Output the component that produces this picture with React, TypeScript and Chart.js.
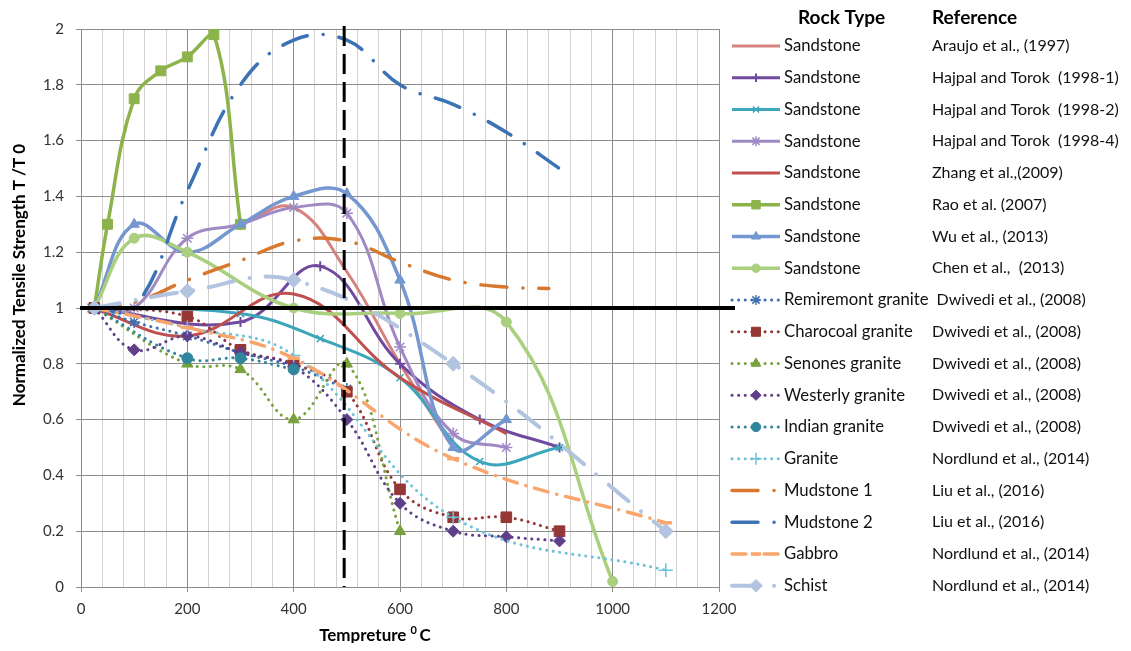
import React, { useEffect, useRef } from 'react';
import { Chart, registerables } from 'chart.js';
import { drawPoint } from 'chart.js/helpers';

Chart.register(...registerables);

// ---------- labels ----------
const ROCK_TYPES = [
  'Sandstone', 'Sandstone', 'Sandstone', 'Sandstone', 'Sandstone', 'Sandstone', 'Sandstone', 'Sandstone',
  'Remiremont granite', 'Charocoal granite', 'Senones granite', 'Westerly granite', 'Indian granite',
  'Granite', 'Mudstone 1', 'Mudstone 2', 'Gabbro', 'Schist',
];
const REFERENCES = [
  'Araujo et al., (1997)', 'Hajpal and Torok  (1998-1)', 'Hajpal and Torok  (1998-2)', 'Hajpal and Torok  (1998-4)',
  'Zhang et al.,(2009)', 'Rao et al. (2007)', 'Wu et al., (2013)', 'Chen et al.,  (2013)',
  'Dwivedi et al., (2008)', 'Dwivedi et al., (2008)', 'Dwivedi et al., (2008)', 'Dwivedi et al., (2008)',
  'Dwivedi et al., (2008)', 'Nordlund et al., (2014)', 'Liu et al., (2016)', 'Liu et al., (2016)',
  'Nordlund et al., (2014)', 'Nordlund et al., (2014)',
];
const X_TITLE = 'Tempreture';
const X_TITLE_SUP = '0';
const X_TITLE_UNIT = 'C';
const Y_TITLE = 'Normalized Tensile Strength T /T 0';
const HEAD_ROCK = 'Rock Type';
const HEAD_REF = 'Reference';

// ---------- axes ----------
const X_MIN = 0, X_MAX = 1200, X_MINOR = 40, X_MAJOR = 200;
const Y_MIN = 0, Y_MAX = 2, Y_STEP = 0.2;
const REF_LINE_Y = 1;
const REF_LINE_X = 495;

// ---------- series (temperature °C, normalized strength) ----------
const T_ARAUJO = [300, 400, 500, 600, 700];
const V_ARAUJO = [1.3, 1.36, 1.13, 0.8, 0.5];

const T_HT1 = [20, 300, 450, 600, 750, 900];
const V_HT1 = [1.0, 0.95, 1.15, 0.8, 0.6, 0.5];

const T_HT2 = [20, 300, 450, 600, 750, 900];
const V_HT2 = [1.0, 0.98, 0.89, 0.75, 0.45, 0.5];

const T_HT4 = [20, 100, 200, 300, 400, 500, 600, 700, 800];
const V_HT4 = [1.0, 1.0, 1.25, 1.3, 1.36, 1.34, 0.86, 0.55, 0.5];

const T_ZHANG = [20, 200, 400, 600, 800];
const V_ZHANG = [1.0, 0.9, 1.05, 0.75, 0.55];

const T_RAO = [25, 50, 100, 150, 200, 250, 300];
const V_RAO = [1.0, 1.3, 1.75, 1.85, 1.9, 1.98, 1.3];

const T_WU = [25, 100, 200, 300, 400, 500, 600, 700, 800];
const V_WU = [1.0, 1.3, 1.2, 1.3, 1.4, 1.41, 1.1, 0.5, 0.6];

const T_CHEN = [25, 100, 200, 400, 600, 800, 1000];
const V_CHEN = [1.0, 1.25, 1.2, 1.0, 0.98, 0.95, 0.02];

const T_REMIREMONT = [25, 100, 200, 300, 400, 500];
const V_REMIREMONT = [1.0, 0.95, 0.9, 0.84, 0.79, 0.71];

const T_CHARCOAL = [25, 200, 300, 400, 500, 600, 700, 800, 900];
const V_CHARCOAL = [1.0, 0.97, 0.85, 0.8, 0.7, 0.35, 0.25, 0.25, 0.2];

const T_SENONES = [25, 200, 300, 400, 500, 600];
const V_SENONES = [1.0, 0.8, 0.78, 0.6, 0.8, 0.2];

const T_WESTERLY = [25, 100, 200, 300, 400, 500, 600, 700, 800, 900];
const V_WESTERLY = [1.0, 0.85, 0.9, 0.84, 0.79, 0.6, 0.3, 0.2, 0.18, 0.165];

const T_INDIAN = [25, 200, 300, 400];
const V_INDIAN = [1.0, 0.82, 0.82, 0.78];

const T_GRANITE = [25, 200, 400, 700, 1100];
const V_GRANITE = [1.0, 0.93, 0.83, 0.25, 0.06];

const T_MUD1 = [25, 100, 200, 300, 400, 500, 600, 700, 800, 880];
const V_MUD1 = [1.0, 1.02, 1.1, 1.17, 1.24, 1.24, 1.165, 1.1, 1.075, 1.07];

const T_MUD2 = [25, 100, 200, 300, 400, 500, 600, 700, 800, 900];
const V_MUD2 = [1.0, 1.0, 1.42, 1.8, 1.96, 1.96, 1.8, 1.73, 1.63, 1.5];

const T_GABBRO = [25, 200, 400, 700, 1100];
const V_GABBRO = [1.0, 0.93, 0.82, 0.46, 0.23];

const T_SCHIST = [25, 200, 400, 700, 1100];
const V_SCHIST = [1.0, 1.06, 1.1, 0.8, 0.2];

const FONT = 'Lato, "Open Sans", "DejaVu Sans", sans-serif';

type S = {
  t: number[]; v: number[]; color: string; width: number; dash?: number[]; cap?: CanvasLineCap;
  point?: string; r?: number; pbw?: number;
};

const DOT = [0.1, 6.5];
const DASHDOT = [26, 16, 0.1, 16];
const SHORTDASHDOT = [14, 9, 0.1, 9];

const SERIES: S[] = [
  { t: T_ARAUJO, v: V_ARAUJO, color: '#D6827E', width: 3 },
  { t: T_HT1, v: V_HT1, color: '#6F4A9E', width: 3, point: 'cross', r: 5, pbw: 2 },
  { t: T_HT2, v: V_HT2, color: '#3CA7BC', width: 3, point: 'crossRot', r: 5, pbw: 1.5 },
  { t: T_HT4, v: V_HT4, color: '#A08AC4', width: 3, point: 'star', r: 6, pbw: 1.5 },
  { t: T_ZHANG, v: V_ZHANG, color: '#C0504D', width: 3 },
  { t: T_RAO, v: V_RAO, color: '#8DB44A', width: 3.5, point: 'rect', r: 7, pbw: 1 },
  { t: T_WU, v: V_WU, color: '#7497D0', width: 3.5, point: 'triangle', r: 6, pbw: 1 },
  { t: T_CHEN, v: V_CHEN, color: '#A9CF7F', width: 3.5, point: 'circle', r: 5, pbw: 1 },
  { t: T_REMIREMONT, v: V_REMIREMONT, color: '#3F6FAF', width: 3, dash: DOT, cap: 'round', point: 'star', r: 6, pbw: 1.5 },
  { t: T_CHARCOAL, v: V_CHARCOAL, color: '#953735', width: 3, dash: DOT, cap: 'round', point: 'rect', r: 7.5, pbw: 1 },
  { t: T_SENONES, v: V_SENONES, color: '#77A23C', width: 3, dash: DOT, cap: 'round', point: 'triangle', r: 6.5, pbw: 1 },
  { t: T_WESTERLY, v: V_WESTERLY, color: '#5F3F8A', width: 3, dash: DOT, cap: 'round', point: 'rectRot', r: 6, pbw: 1 },
  { t: T_INDIAN, v: V_INDIAN, color: '#31859C', width: 3, dash: DOT, cap: 'round', point: 'circle', r: 5.5, pbw: 1 },
  { t: T_GRANITE, v: V_GRANITE, color: '#6FC2D8', width: 3, dash: DOT, cap: 'round', point: 'cross', r: 7, pbw: 1.5 },
  { t: T_MUD1, v: V_MUD1, color: '#D8772E', width: 3.5, dash: DASHDOT, cap: 'round' },
  { t: T_MUD2, v: V_MUD2, color: '#3C73B4', width: 3.5, dash: DASHDOT, cap: 'round' },
  { t: T_GABBRO, v: V_GABBRO, color: '#F9A66E', width: 3.5, dash: SHORTDASHDOT, cap: 'round', point: 'line', r: 6, pbw: 3.5 },
  { t: T_SCHIST, v: V_SCHIST, color: '#B3C4E0', width: 4, dash: DASHDOT, cap: 'round', point: 'rectRot', r: 7.5, pbw: 1 },
];

// legend layout (canvas coords)
const LEG_LINE_X0 = 724, LEG_LINE_X1 = 772, LEG_TEXT_X = 776, LEG_REF_X = 924;
const LEG_HEAD_Y = 10, LEG_FIRST_Y = 38, LEG_ROW_H = 31.75;

const decorPlugin = {
  id: 'decor',
  afterDatasetsDraw(chart: any) {
    const { ctx, chartArea, scales } = chart;
    const x = scales.x, y = scales.y;
    ctx.save();
    ctx.strokeStyle = '#000';
    ctx.lineWidth = 4;
    const yy = y.getPixelForValue(REF_LINE_Y);
    ctx.beginPath();
    ctx.moveTo(chartArea.left - 1, yy);
    ctx.lineTo(chartArea.right + 16, yy);
    ctx.stroke();
    const xx = x.getPixelForValue(REF_LINE_X);
    ctx.lineWidth = 3;
    ctx.setLineDash([20, 8]);
    ctx.beginPath();
    ctx.moveTo(xx, chartArea.top - 3);
    ctx.lineTo(xx, chartArea.bottom);
    ctx.stroke();
    ctx.restore();
  },
  afterDraw(chart: any) {
    const { ctx } = chart;
    ctx.save();
    ctx.fillStyle = '#000';
    // y title
    ctx.font = `bold 17px ${FONT}`;
    ctx.textAlign = 'center';
    ctx.textBaseline = 'middle';
    ctx.save();
    ctx.translate(12, 267);
    ctx.rotate(-Math.PI / 2);
    ctx.fillText(Y_TITLE, 0, 0);
    ctx.restore();
    // x title
    ctx.textAlign = 'left';
    ctx.textBaseline = 'alphabetic';
    ctx.font = `bold 17px ${FONT}`;
    const w1 = ctx.measureText(X_TITLE + ' ').width;
    ctx.font = `bold 11px ${FONT}`;
    const w2 = ctx.measureText(X_TITLE_SUP + ' ').width;
    ctx.font = `bold 17px ${FONT}`;
    const w3 = ctx.measureText(X_TITLE_UNIT).width;
    const cx = 367, base = 633;
    const sx = cx - (w1 + w2 + w3) / 2;
    ctx.fillText(X_TITLE + ' ', sx, base);
    ctx.font = `bold 11px ${FONT}`;
    ctx.fillText(X_TITLE_SUP, sx + w1, base - 7);
    ctx.font = `bold 17px ${FONT}`;
    ctx.fillText(X_TITLE_UNIT, sx + w1 + w2, base);

    // legend
    ctx.textBaseline = 'middle';
    ctx.font = `bold 19px ${FONT}`;
    ctx.fillText(HEAD_ROCK, 790, LEG_HEAD_Y);
    ctx.fillText(HEAD_REF, LEG_REF_X, LEG_HEAD_Y);
    chart.data.datasets.forEach((_ds: any, i: number) => {
      const s = SERIES[i];
      const yy = LEG_FIRST_Y + i * LEG_ROW_H;
      ctx.save();
      ctx.strokeStyle = s.color;
      ctx.lineWidth = s.width;
      ctx.setLineDash(s.dash || []);
      ctx.lineCap = s.cap || 'butt';
      ctx.beginPath();
      ctx.moveTo(LEG_LINE_X0, yy);
      ctx.lineTo(LEG_LINE_X1, yy);
      ctx.stroke();
      ctx.setLineDash([]);
      ctx.lineCap = 'butt';
      if (s.point) {
        ctx.fillStyle = s.color;
        ctx.strokeStyle = s.color;
        ctx.lineWidth = s.pbw || 1;
        drawPoint(ctx, { pointStyle: s.point as any, radius: (s.r || 5) * 0.85, rotation: 0, borderWidth: s.pbw || 1 } as any, (LEG_LINE_X0 + LEG_LINE_X1) / 2, yy);
      }
      ctx.restore();
      ctx.fillStyle = '#111';
      ctx.font = `16.7px ${FONT}`;
      ctx.fillText(ROCK_TYPES[i], LEG_TEXT_X, yy);
      const tw = ctx.measureText(ROCK_TYPES[i]).width;
      ctx.font = `16px ${FONT}`;
      ctx.fillText(REFERENCES[i], Math.max(LEG_REF_X, LEG_TEXT_X + tw + 8), yy);
    });
    ctx.restore();
  },
};

export default function App() {
  const ref = useRef<HTMLCanvasElement>(null);
  useEffect(() => {
    if (!ref.current) return;
    const N = SERIES.length;
    const datasets = SERIES.map((s, i) => ({
      label: ROCK_TYPES[i],
      data: s.t.map((x, j) => ({ x, y: s.v[j] })),
      borderColor: s.color,
      backgroundColor: s.color,
      borderWidth: s.width,
      borderDash: s.dash || [],
      borderCapStyle: s.cap || 'butt',
      pointStyle: (s.point || 'circle') as any,
      pointRadius: s.point ? s.r : 0,
      pointBorderWidth: s.pbw || 1,
      pointBackgroundColor: s.color,
      pointBorderColor: s.color,
      tension: 0.4,
      fill: false,
      order: N - i,
    }));
    const chart = new Chart(ref.current, {
      type: 'line',
      data: { datasets },
      plugins: [decorPlugin],
      options: {
        responsive: false,
        animation: false,
        events: [],
        layout: { padding: { top: 10, right: 404, left: 0, bottom: 0 } },
        plugins: { legend: { display: false }, tooltip: { enabled: false } },
        scales: {
          x: {
            type: 'linear',
            min: X_MIN,
            max: X_MAX,
            afterFit: (sc: any) => { sc.height = 56; },
            ticks: {
              stepSize: X_MINOR,
              autoSkip: false,
              maxRotation: 0,
              padding: 8,
              color: '#333',
              font: { family: FONT, size: 15 },
              callback: (v: any) => (Number(v) % X_MAJOR === 0 ? String(v) : ''),
            },
            grid: {
              color: (c: any) => (c.tick && c.tick.value % X_MAJOR === 0 ? '#8C8C8C' : '#D0D0D0'),
              tickColor: (c: any) => (c.tick && c.tick.value % X_MAJOR === 0 ? '#8C8C8C' : 'rgba(0,0,0,0)'),
              tickLength: 5,
            },
            border: { color: '#8C8C8C' },
          },
          y: {
            type: 'linear',
            min: Y_MIN,
            max: Y_MAX,
            afterFit: (sc: any) => { sc.width = 73; },
            ticks: {
              stepSize: Y_STEP,
              padding: 12,
              color: '#333',
              font: { family: FONT, size: 15 },
              callback: (v: any) => String(Math.round(Number(v) * 10) / 10),
            },
            grid: { color: '#8C8C8C', tickColor: '#8C8C8C', tickLength: 5 },
            border: { color: '#8C8C8C' },
          },
        },
      } as any,
    });
    return () => chart.destroy();
  }, []);
  return (
    <div style={{ width: 1115, height: 635 }}>
      <canvas ref={ref} width={1115} height={635} style={{ display: 'block' }} />
    </div>
  );
}
